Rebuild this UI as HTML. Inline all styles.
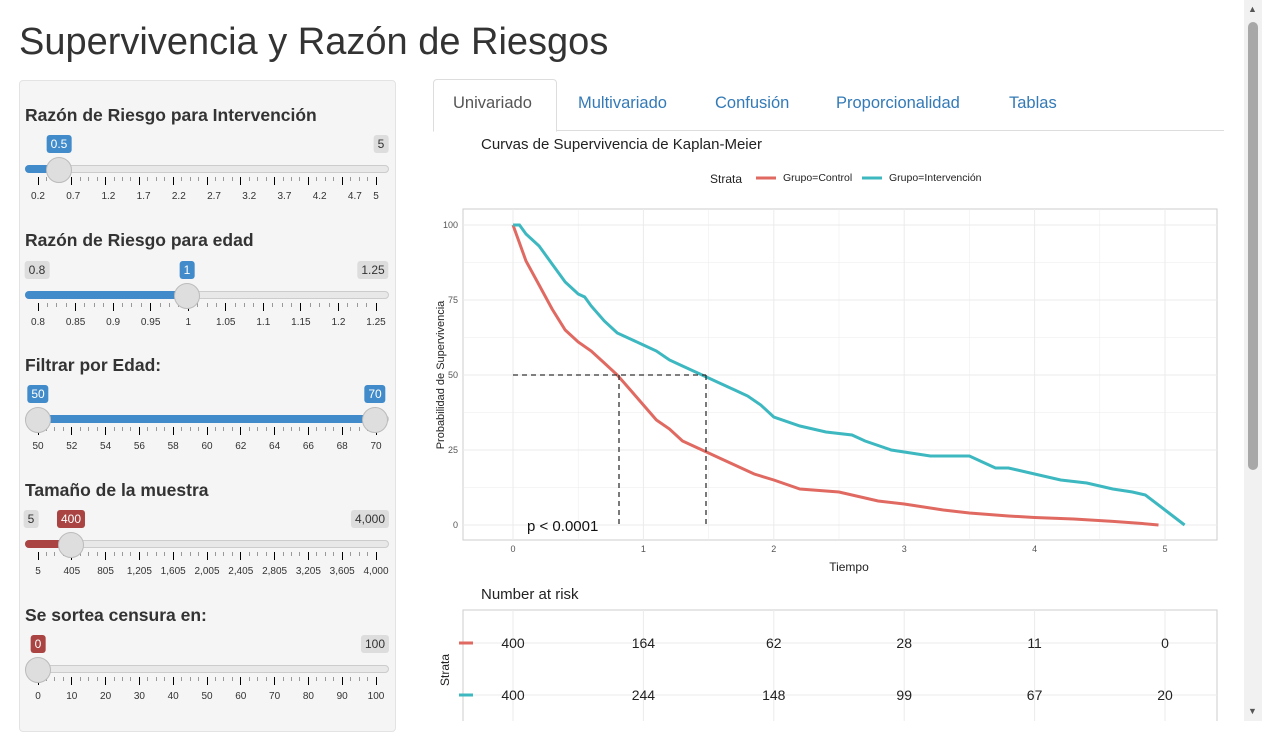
<!DOCTYPE html>
<html><head><meta charset="utf-8"><style>
body{margin:0;width:1262px;height:721px;overflow:hidden;background:#fff;font-family:"Liberation Sans",sans-serif;position:relative;color:#333}
.a{position:absolute;white-space:nowrap}
.lbl{font-weight:bold;font-size:17.5px;color:#333}
.bub{font-size:12px;padding:1px 4px;border-radius:3px;line-height:16px;transform:translateX(-50%)}
.g{background:#ddd;color:#333}.b{background:#428bca;color:#fff}.r{background:#a94442;color:#fff}
.tl{font-size:10px;color:#333;transform:translateX(-50%)}
.tab{font-size:16px;color:#337ab7}
</style></head><body>
<div class="a" style="left:19px;top:21px;font-size:38px;color:#333">Supervivencia y Razón de Riesgos</div>
<div class="a" style="left:19px;top:80px;width:375px;height:650px;background:#f5f5f5;border:1px solid #e3e3e3;border-radius:4px"></div>
<div id="sl"></div>
<div class="a" style="left:433px;top:130px;width:791px;border-top:1px solid #ddd"></div>
<div class="a" style="left:433px;top:79px;width:122px;height:51px;border:1px solid #ddd;border-bottom:1px solid #fff;border-radius:4px 4px 0 0;background:#fff"></div>
<div class="a" style="left:453px;top:94px;font-size:16.5px;color:#555">Univariado</div>
<div class="a tab" style="left:578px;top:94px;font-size:16.5px">Multivariado</div>
<div class="a tab" style="left:715px;top:94px;font-size:16.5px">Confusión</div>
<div class="a tab" style="left:836px;top:94px;font-size:16.5px">Proporcionalidad</div>
<div class="a tab" style="left:1009px;top:94px;font-size:16.5px">Tablas</div>
<svg class="a" style="left:0;top:0" width="1262" height="721" id="ch" font-family="Liberation Sans, sans-serif"></svg>
<div class="a" style="left:1244px;top:0;width:18px;height:721px;background:#f1f1f1"></div>
<div class="a" style="left:1248px;top:22px;width:10px;height:448px;background:#a8a8a8;border-radius:5px"></div>
<div class="a" style="left:1248px;top:4px;font-size:9px;color:#555">▲</div>
<div class="a" style="left:1248px;top:706px;font-size:9px;color:#555">▼</div>
<script>
var h='';
function sl(y,labels,fill,thumbs,bubs,col,pos){
 h+='<div class="a" style="left:25px;top:'+(y-5)+'px;width:364px;height:8px;border-radius:4px;background:#e8e8e8;border:1px solid #ccc;box-sizing:border-box"></div>';
 h+='<div class="a" style="left:'+fill[0]+'px;top:'+(y-5)+'px;width:'+(fill[1]-fill[0])+'px;height:8px;border-radius:4px;background:'+col+'"></div>';
 var n=labels.length-1;
 for(var i=0;i<=n*4;i++){var x=38+i*(338)/(n*4);var maj=i%4==0;if(x>376.5)break;
  h+='<div class="a" style="left:'+(x-0.5)+'px;top:'+(y+7)+'px;width:1px;height:'+(maj?8:4)+'px;background:'+(maj?'#000':'#999')+'"></div>';}
 labels.forEach(function(l,i){var x=pos?pos[i]:38+i*338/n; h+='<div class="a tl" style="left:'+x+'px;top:'+(y+21)+'px">'+l+'</div>';});
 thumbs.forEach(function(x){h+='<div class="a" style="left:'+(x-13)+'px;top:'+(y-13)+'px;width:26px;height:26px;border-radius:50%;background:#dedede;border:1px solid #bbb;box-sizing:border-box"></div>';});
 bubs.forEach(function(b){h+='<div class="a bub '+b[2]+'" style="left:'+b[0]+'px;top:'+(y-35)+'px">'+b[1]+'</div>';});
}
var L=[[115,'Razón de Riesgo para Intervención'],[240,'Razón de Riesgo para edad'],[365,'Filtrar por Edad:'],[490,'Tamaño de la muestra'],[615,'Se sortea censura en:']];
L.forEach(function(l){h+='<div class="a lbl" style="left:25px;top:'+(l[0]-10)+'px">'+l[1]+'</div>';});
var p1=[];for(var i=0;i<10;i++)p1.push(38+i*0.5*338/4.8);p1.push(376);
sl(170,['0.2','0.7','1.2','1.7','2.2','2.7','3.2','3.7','4.2','4.7','5'],[25,59],[59],[[59,'0.5','b'],[381,'5','g']],'#428bca',p1);
sl(296,['0.8','0.85','0.9','0.95','1','1.05','1.1','1.15','1.2','1.25'],[25,187],[187],[[37,'0.8','g'],[187,'1','b'],[373,'1.25','g']],'#428bca');
sl(420,['50','52','54','56','58','60','62','64','66','68','70'],[38,375],[38,375],[[38,'50','b'],[375,'70','b']],'#428bca');
sl(545,['5','405','805','1,205','1,605','2,005','2,405','2,805','3,205','3,605','4,000'],[25,71],[71],[[31,'5','g'],[71,'400','r'],[370,'4,000','g']],'#a94442');
sl(670,['0','10','20','30','40','50','60','70','80','90','100'],[25,25],[38],[[38,'0','r'],[375,'100','g']],'#a94442');
document.getElementById('sl').innerHTML=h;
var s='';
function X(t){return 513+130.4*t}function Y(v){return 525-3*v}
s+='<text x="481" y="149" font-size="15" fill="#222">Curvas de Supervivencia de Kaplan-Meier</text>';
s+='<text x="710" y="183" font-size="12" fill="#222">Strata</text><line x1="756" y1="178" x2="776" y2="178" stroke="#e06a62" stroke-width="3"/><text x="783" y="181" font-size="10.5" fill="#222">Grupo=Control</text><line x1="862" y1="178" x2="882" y2="178" stroke="#3db8c0" stroke-width="3"/><text x="889" y="181" font-size="10.5" fill="#222">Grupo=Intervención</text>';
s+='<rect x="463" y="209" width="754" height="331" fill="#fff" stroke="#ccc"/>';
for(var t=0;t<=5;t+=0.5){s+='<line x1="'+X(t)+'" y1="209" x2="'+X(t)+'" y2="540" stroke="#ebebeb" stroke-width="'+(t%1?0.5:1)+'"/>';}
for(var v=0;v<=100;v+=12.5){s+='<line x1="463" y1="'+Y(v)+'" x2="1217" y2="'+Y(v)+'" stroke="#ebebeb" stroke-width="'+(v%25?0.5:1)+'"/>';}
[0,25,50,75,100].forEach(function(v){s+='<text x="458" y="'+(Y(v)+3)+'" font-size="9" fill="#555" text-anchor="end">'+v+'</text>';});
[0,1,2,3,4,5].forEach(function(t){s+='<text x="'+X(t)+'" y="552" font-size="9" fill="#555" text-anchor="middle">'+t+'</text>';});
s+='<text x="849" y="571" font-size="12" fill="#222" text-anchor="middle">Tiempo</text>';
s+='<text transform="translate(444,375) rotate(-90)" font-size="11" fill="#222" text-anchor="middle">Probabilidad de Supervivencia</text>';
var C=[[0,100],[0.1,88],[0.2,80],[0.3,72],[0.4,65],[0.5,61],[0.6,58],[0.7,54],[0.8,50],[0.9,45],[1.0,40],[1.1,35],[1.2,32],[1.3,28],[1.45,25],[1.6,22],[1.75,19],[1.85,17],[2.0,15],[2.2,12],[2.5,11],[2.7,9],[2.8,8],[3.0,7],[3.3,5],[3.5,4],[3.8,3],[4.0,2.5],[4.3,2],[4.6,1.2],[4.8,0.6],[4.95,0]];
var I=[[0,100],[0.05,100],[0.1,97],[0.2,93],[0.3,87],[0.4,81],[0.5,77],[0.55,76],[0.6,73],[0.7,68],[0.8,64],[0.9,62],[1.0,60],[1.1,58],[1.2,55],[1.3,53],[1.45,50],[1.6,47],[1.7,45],[1.8,43],[1.9,40],[2.0,36],[2.2,33],[2.4,31],[2.6,30],[2.7,28],[2.9,25],[3.2,23],[3.5,23],[3.6,21],[3.7,19],[3.8,19],[4.0,17],[4.2,15],[4.4,14],[4.6,12],[4.75,11],[4.85,10],[5.0,5],[5.15,0]];
function pl(d,c){return '<polyline fill="none" stroke="'+c+'" stroke-width="3" points="'+d.map(function(p){return X(p[0]).toFixed(1)+','+Y(p[1]).toFixed(1)}).join(' ')+'"/>';}
s+=pl(C,'#e06a62')+pl(I,'#3db8c0');
s+='<g stroke="#333" stroke-width="1.3" stroke-dasharray="5,4" fill="none"><line x1="513" y1="375" x2="706" y2="375"/><line x1="619" y1="375" x2="619" y2="525"/><line x1="706" y1="375" x2="706" y2="525"/></g>';
s+='<text x="527" y="531" font-size="15" fill="#111">p &lt; 0.0001</text>';
s+='<text x="481" y="599" font-size="15" fill="#222">Number at risk</text>';
s+='<rect x="463" y="610" width="754" height="120" fill="#fff" stroke="#ccc"/>';
[0,1,2,3,4,5].forEach(function(t){s+='<line x1="'+X(t)+'" y1="610" x2="'+X(t)+'" y2="721" stroke="#ebebeb"/>';});
s+='<line x1="463" y1="643" x2="1217" y2="643" stroke="#ebebeb"/><line x1="463" y1="695" x2="1217" y2="695" stroke="#ebebeb"/>';
s+='<line x1="459" y1="643" x2="473" y2="643" stroke="#e06a62" stroke-width="3"/><line x1="459" y1="695" x2="473" y2="695" stroke="#3db8c0" stroke-width="3"/>';
s+='<text transform="translate(449,670) rotate(-90)" font-size="12" fill="#222" text-anchor="middle">Strata</text>';
[[400,164,62,28,11,0],[400,244,148,99,67,20]].forEach(function(r,j){r.forEach(function(v,i){s+='<text x="'+X(i)+'" y="'+(j?700:648)+'" font-size="14" fill="#222" text-anchor="middle">'+v+'</text>';});});
document.getElementById('ch').innerHTML=s;
</script>
</body></html>
